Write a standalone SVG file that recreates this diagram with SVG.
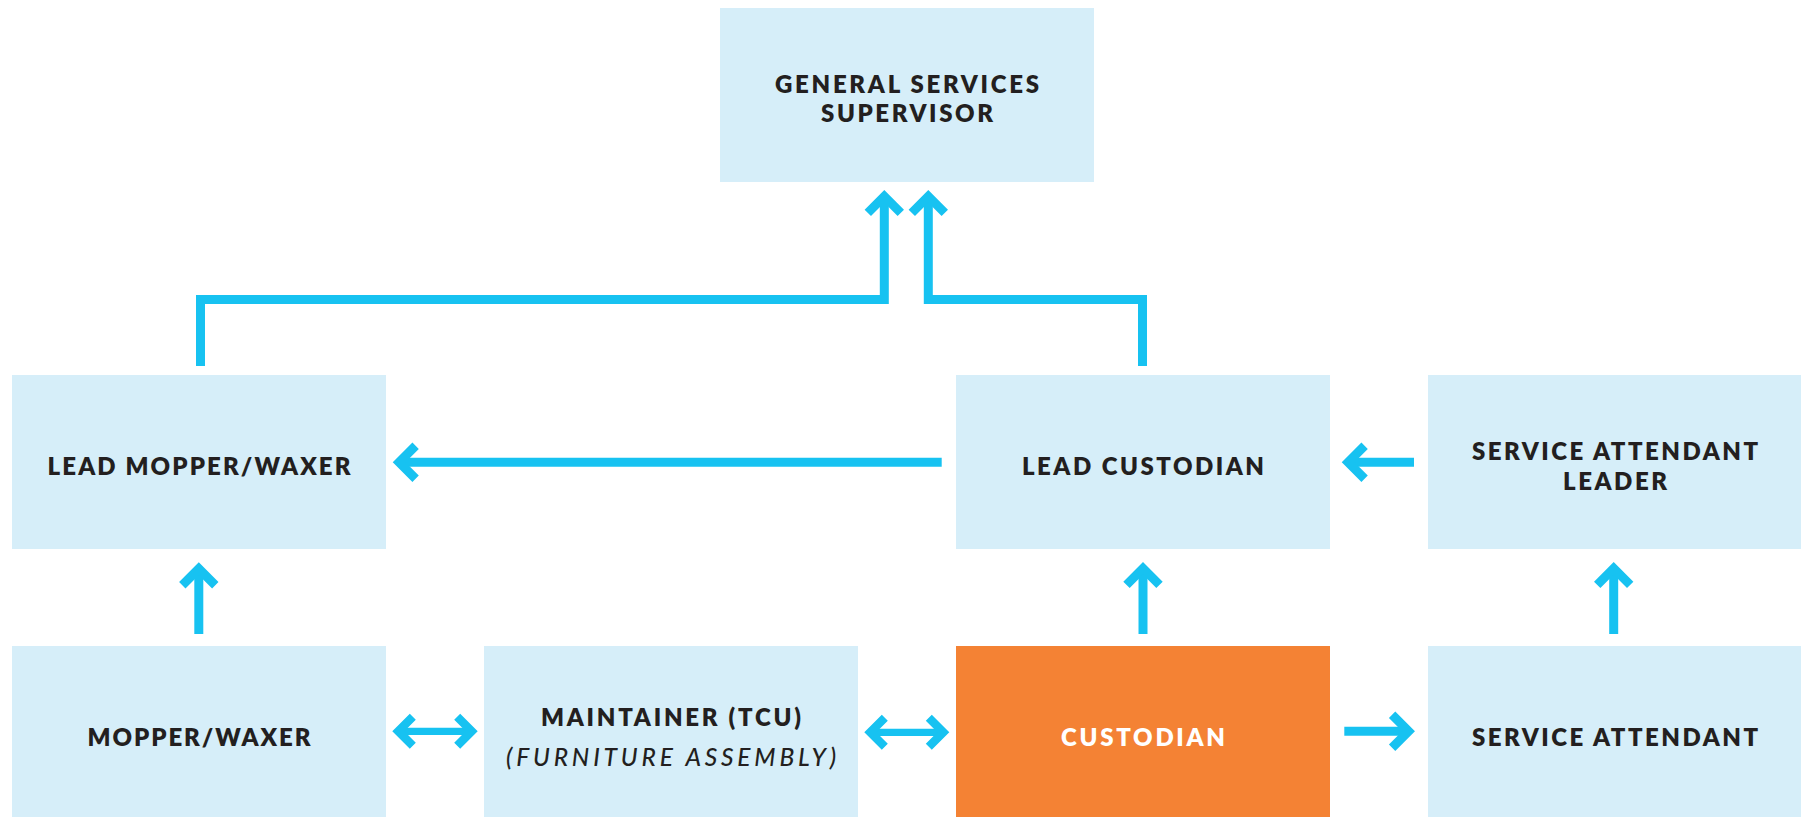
<svg xmlns="http://www.w3.org/2000/svg" width="1801" height="817" viewBox="0 0 1801 817">
<style>
.box{fill:#D6EEF9}
.hl{fill:#F48234}
.t{font-family:Lato,"Noto Sans","Liberation Sans",sans-serif;font-weight:800;font-size:24px;fill:#231F20;text-anchor:middle}
.w{fill:#FFFFFF}
.it{font-weight:500;font-style:italic;font-size:24.5px}
.c{fill:none;stroke:#17C2F1;stroke-width:9;stroke-linejoin:miter;stroke-linecap:butt}
.c2{fill:none;stroke:#17C2F1;stroke-width:7.3;stroke-linecap:butt}
</style>
<defs>
<marker id="ah" markerUnits="userSpaceOnUse" orient="auto-start-reverse" refX="0" refY="0" markerWidth="60" markerHeight="60" overflow="visible">
<path d="M-16.5,-16.5 L0,0 L-16.5,16.5" fill="none" stroke="#17C2F1" stroke-width="9" stroke-linejoin="miter" stroke-miterlimit="4"/>
</marker>
<marker id="ahs" markerUnits="userSpaceOnUse" orient="auto-start-reverse" refX="0" refY="0" markerWidth="60" markerHeight="60" overflow="visible">
<path d="M-14.5,-14.5 L0,0 L-14.5,14.5" fill="none" stroke="#17C2F1" stroke-width="8.5" stroke-linejoin="miter" stroke-miterlimit="4"/>
</marker>
</defs>
<rect width="1801" height="817" fill="#FFFFFF"/>
<g id="general-services-supervisor">
<rect class="box" x="720" y="8" width="374" height="174"/>
<text class="t" x="907" y="93" textLength="264" lengthAdjust="spacing">GENERAL SERVICES</text>
<text class="t" x="907" y="122" textLength="172" lengthAdjust="spacing">SUPERVISOR</text>
</g>
<g id="lead-mopper-waxer">
<rect class="box" x="12" y="375" width="374" height="174"/>
<text class="t" x="199" y="475" textLength="303" lengthAdjust="spacing">LEAD MOPPER/WAXER</text>
</g>
<g id="lead-custodian">
<rect class="box" x="956" y="375" width="374" height="174"/>
<text class="t" x="1143" y="475" textLength="242" lengthAdjust="spacing">LEAD CUSTODIAN</text>
</g>
<g id="service-attendant-leader">
<rect class="box" x="1428" y="375" width="374" height="174"/>
<text class="t" x="1615" y="460" textLength="286" lengthAdjust="spacing">SERVICE ATTENDANT</text>
<text class="t" x="1615" y="490" textLength="104" lengthAdjust="spacing">LEADER</text>
</g>
<g id="mopper-waxer">
<rect class="box" x="12" y="646" width="374" height="174"/>
<text class="t" x="199" y="746" textLength="223" lengthAdjust="spacing">MOPPER/WAXER</text>
</g>
<g id="maintainer">
<rect class="box" x="484" y="646" width="374" height="174"/>
<text class="t" x="671" y="726" textLength="260" lengthAdjust="spacing">MAINTAINER (TCU)</text>
<text class="t it" x="671" y="766" textLength="330" lengthAdjust="spacing">(FURNITURE ASSEMBLY)</text>
</g>
<g id="custodian">
<rect class="hl" x="956" y="646" width="374" height="174"/>
<text class="t w" x="1143" y="746" textLength="164" lengthAdjust="spacing">CUSTODIAN</text>
</g>
<g id="service-attendant">
<rect class="box" x="1428" y="646" width="374" height="174"/>
<text class="t" x="1615" y="746" textLength="286" lengthAdjust="spacing">SERVICE ATTENDANT</text>
</g>
<g id="connectors">
<path class="c" d="M200.5,366 V299.4 H884.3 V196.4" marker-end="url(#ah)"/>
<path class="c" d="M1142.5,366 V299.4 H928.3 V196.4" marker-end="url(#ah)"/>
<path class="c" d="M941.7,462.3 H399.1" marker-end="url(#ah)"/>
<path class="c" d="M1414,462.3 H1348.1" marker-end="url(#ah)"/>
<path class="c" d="M198.8,634 V568.7" marker-end="url(#ah)"/>
<path class="c" d="M1143,634 V568.4" marker-end="url(#ah)"/>
<path class="c" d="M1613.7,634 V568.4" marker-end="url(#ah)"/>
<path class="c" d="M1344.3,731.2 H1408.6" marker-end="url(#ah)"/>
<path class="c2" d="M398.3,731.3 H471.7" marker-start="url(#ahs)" marker-end="url(#ahs)"/>
<path class="c2" d="M870.3,732.3 H943.3" marker-start="url(#ahs)" marker-end="url(#ahs)"/>
</g>
</svg>
